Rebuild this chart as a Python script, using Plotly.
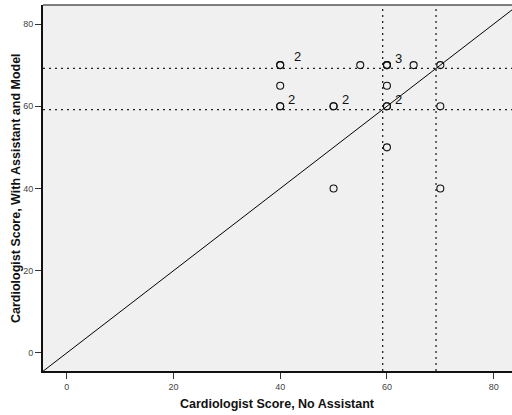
import plotly.graph_objects as go
from collections import Counter

# Paired scores per case
no_assistant = [40, 40, 40, 40, 40, 50, 50, 50, 55, 60, 60, 60, 60, 60, 60, 60, 65, 70, 70, 70]
with_assistant = [70, 70, 65, 60, 60, 60, 60, 40, 70, 70, 70, 70, 65, 60, 60, 50, 70, 70, 60, 40]

# Reference lines
ref_x = [59.2, 69.2]
ref_y = [59.2, 69.2]

x_ticks = [0, 20, 40, 60, 80]
y_ticks = [0, 20, 40, 60, 80]
x_range = [-4.44, 83.43]
y_range = [-4.38, 84.62]

x_title = "Cardiologist Score, No Assistant"
y_title = "Cardiologist Score, With Assistant and Model"

fig = go.Figure()

# Identity line y = x
diag = [min(x_range[0], y_range[0]), max(x_range[1], y_range[1])]
fig.add_trace(go.Scatter(x=diag, y=diag, mode="lines",
                         line=dict(color="black", width=1), hoverinfo="skip",
                         showlegend=False))

for v in ref_x:
    fig.add_shape(type="line", xref="x", yref="paper", x0=v, x1=v, y0=0, y1=1,
                  line=dict(color="#222222", width=1.3, dash="2px,4px"), layer="below")
for v in ref_y:
    fig.add_shape(type="line", xref="paper", yref="y", x0=0, x1=1, y0=v, y1=v,
                  line=dict(color="#222222", width=1.3, dash="2px,4px"), layer="below")

fig.add_trace(go.Scatter(x=no_assistant, y=with_assistant, mode="markers",
                         marker=dict(symbol="circle-open", size=7,
                                     line=dict(color="#111111", width=1.1),
                                     color="#111111"),
                         showlegend=False))

# Count labels for overlapping cases
counts = Counter(zip(no_assistant, with_assistant))
label_shift = {(40, 70): (12, 9)}
for (px, py), n in counts.items():
    if n > 1:
        dx, dy = label_shift.get((px, py), (6, 7))
        fig.add_annotation(x=px, y=py, text=str(n), showarrow=False,
                           xanchor="left", yanchor="middle", xshift=dx, yshift=dy,
                           font=dict(family="Arial, Liberation Sans", size=13, color="#111111"))

axis_font = dict(family="Arial, Liberation Sans", size=9, color="#444444")
title_font = dict(family="Arial, Liberation Sans", size=12.5, color="#111111")

# Axis titles
fig.add_annotation(xref="paper", yref="paper", x=0.5, y=0, yshift=-33,
                   xanchor="center", yanchor="middle", showarrow=False,
                   text=f"<b>{x_title}</b>", font=title_font)
fig.add_annotation(xref="paper", yref="paper", x=0, y=0.5, xshift=-27,
                   xanchor="center", yanchor="middle", showarrow=False, textangle=-90,
                   text=f"<b>{y_title}</b>", font=title_font)

fig.update_xaxes(range=x_range, tickvals=x_ticks, ticks="outside", ticklen=6,
                 tickcolor="#333333", tickwidth=1, showgrid=False, zeroline=False,
                 showline=True, linecolor="#111111", linewidth=2,
                 tickfont=axis_font)
fig.update_yaxes(range=y_range, tickvals=y_ticks, ticks="outside", ticklen=6,
                 tickcolor="#333333", tickwidth=1, showgrid=False, zeroline=False,
                 showline=True, linecolor="#111111", linewidth=2,
                 tickfont=axis_font)

# Top frame edge
fig.add_shape(type="line", xref="paper", yref="paper", x0=0, x1=1, y0=1, y1=1,
              line=dict(color="#555555", width=1.5))

fig.update_layout(width=512, height=415,
                  margin=dict(l=43, r=0, t=5, b=44),
                  plot_bgcolor="#F0F0F0", paper_bgcolor="white",
                  font=dict(family="Arial, Liberation Sans"))

fig.write_html("out.html")
